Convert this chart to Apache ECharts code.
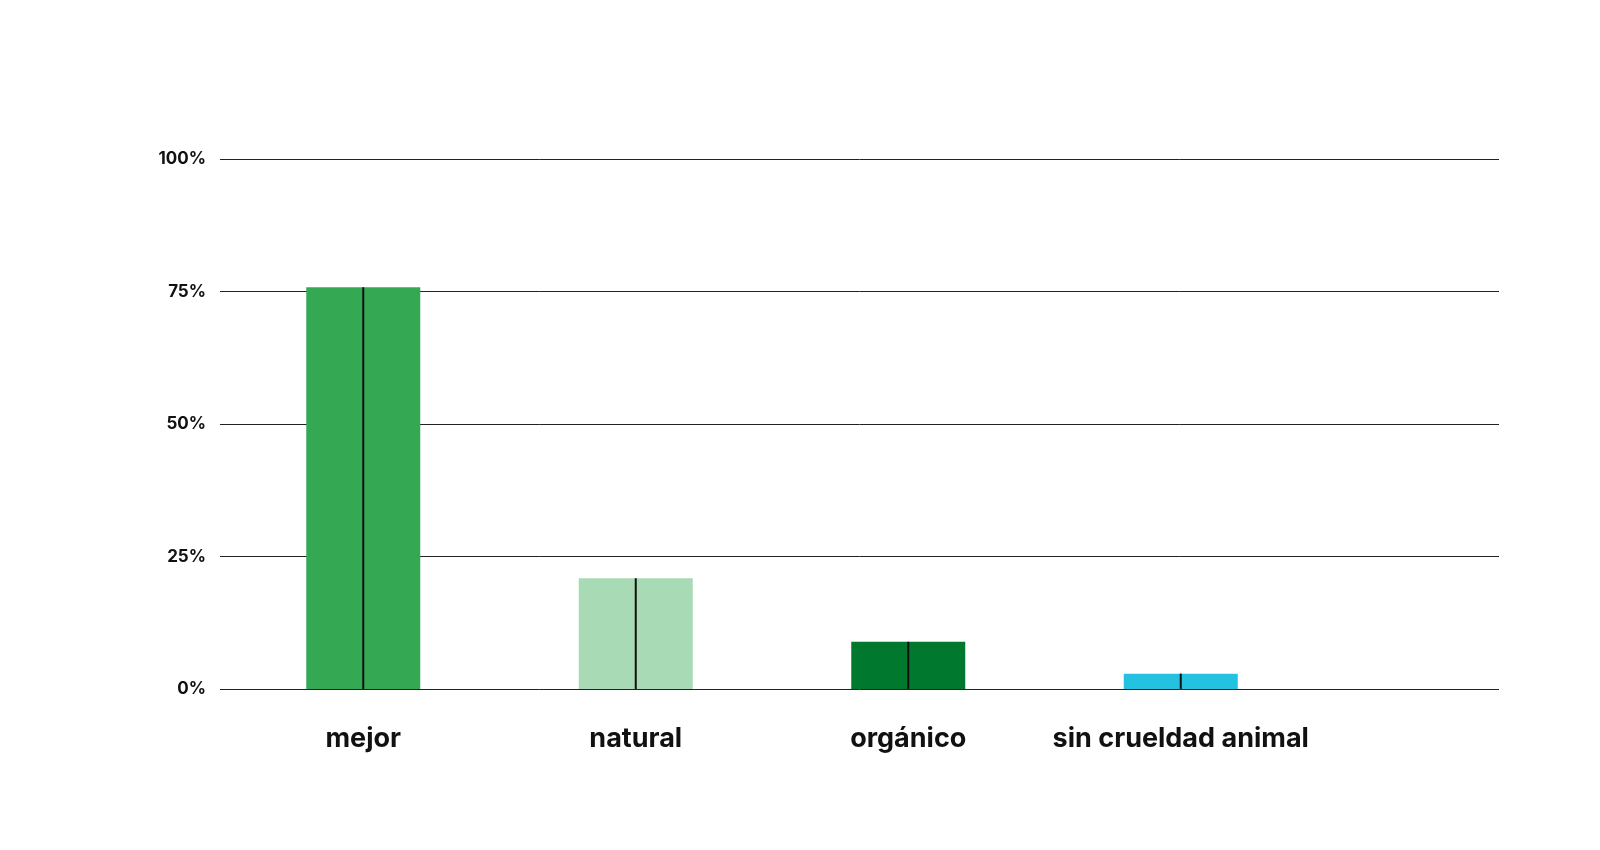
<!DOCTYPE html>
<html>
<head>
<meta charset="utf-8">
<script src="https://cdn.jsdelivr.net/npm/echarts@6/dist/echarts.min.js"></script>
<style>html,body{margin:0;padding:0;background:#fff}#chart{width:1600px;height:850px}</style>
</head>
<body>
<div id="chart"></div>
<script>
var categories = ['mejor', 'natural', 'orgánico', 'sin crueldad animal'];
var values = [75.8, 20.9, 8.9, 2.9];
var barColors = ['#34a853', '#a8dab5', '#00792f', '#24c1e0'];

var myChart = echarts.init(document.getElementById('chart'));

var option = {
    animation: false,
    grid: [
        {left: 220, right: 101, top: 159, bottom: 161},
        {left: 227, right: 283, top: 159, bottom: 161}
    ],
    xAxis: [
        {gridIndex: 0, type: 'value', show: false, min: 0, max: 1},
        {
            gridIndex: 1, type: 'category', data: categories,
            axisLine: {show: false}, axisTick: {show: false},
            axisLabel: {
                interval: 0, color: '#111', fontSize: 27, fontWeight: 'bold',
                fontFamily: 'Inter', margin: 36
            }
        },
        {gridIndex: 1, type: 'category', data: categories, show: false}
    ],
    yAxis: [
        {
            gridIndex: 0, type: 'value', min: 0, max: 100, interval: 25,
            axisLine: {show: false}, axisTick: {show: false},
            splitLine: {lineStyle: {color: '#222', width: 1}},
            axisLabel: {
                color: '#111', fontSize: 17, fontWeight: 'bold', fontFamily: 'Inter',
                margin: 14, formatter: '{value}%'
            }
        },
        {gridIndex: 1, type: 'value', min: 0, max: 100, show: false}
    ],
    series: [
        {
            type: 'bar', xAxisIndex: 1, yAxisIndex: 1, barWidth: 114,
            data: values.map(function (v, i) {
                return {value: v, itemStyle: {color: barColors[i]}};
            }),
            z: 2
        },
        {
            // linea negra en el centro de cada barra
            type: 'bar', xAxisIndex: 2, yAxisIndex: 1, barWidth: 2,
            data: values, itemStyle: {color: '#111'}, z: 3
        }
    ]
};

myChart.setOption(option);
</script>
</body>
</html>
